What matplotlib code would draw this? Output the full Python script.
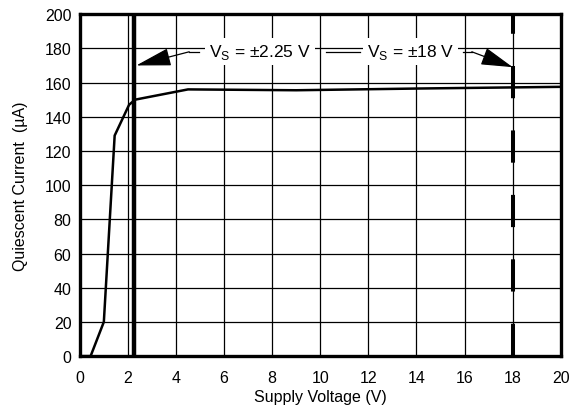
import numpy as np
import matplotlib.pyplot as plt

plt.rcParams['font.family'] = ['Liberation Sans', 'DejaVu Sans']

# quiescent current curve
supply_v = [0.0, 0.45, 1.0, 1.45, 2.05, 2.3, 4.5, 9.0, 14.0, 20.0]
current_ua = [0.0, 0.0, 20.0, 129.0, 147.0, 150.0, 156.0, 155.5, 156.5, 157.5]

xticks = np.arange(0, 21, 2)
yticks = np.arange(0, 201, 20)

vs_low = 2.25
vs_high = 18.0

fig = plt.figure(figsize=(5.74, 4.10), dpi=100)
ax = fig.add_axes([0.139, 0.129, 0.838, 0.834])

ax.set_xlim(0, 20)
ax.set_ylim(0, 200)
ax.set_xticks(xticks)
ax.set_yticks(yticks)
ax.tick_params(length=0, labelsize=11.5)
ax.tick_params(axis='x', pad=10)
ax.tick_params(axis='y', pad=6)
ax.grid(True, color='black', linewidth=0.9)
ax.set_axisbelow(True)
for s in ax.spines.values():
    s.set_linewidth(2.4)

ax.plot(supply_v, current_ua, color='black', linewidth=1.8, zorder=4)

# supply voltage markers
ax.axvline(vs_low, color='black', linewidth=3.2, zorder=3)
ax.plot([vs_high, vs_high], [0, 200], color='black', linewidth=2.9,
        dashes=(8, 8), zorder=3)

# labels with arrows
txt_kw = dict(fontsize=12.5, ha='center', va='center', zorder=6,
              bbox=dict(facecolor='white', edgecolor='none', pad=3))
ax.text(7.5, 178, r'V$_\mathregular{S}$ = ±2.25 V', **txt_kw)
ax.text(13.75, 178, r'V$_\mathregular{S}$ = ±18 V', **txt_kw)

ax.plot([4.95, 4.55], [178, 178], color='black', linewidth=0.9, zorder=5)
ax.annotate('', xy=(vs_low + 0.1, 170), xytext=(4.55, 178),
            arrowprops=dict(arrowstyle='-|>,head_length=1.1,head_width=0.28',
                            mutation_scale=20, color='black', lw=0.9,
                            shrinkA=0, shrinkB=0), zorder=5)

ax.plot([10.25, 11.65], [178, 178], color='black', linewidth=0.9, zorder=5)
ax.annotate('', xy=(vs_high, 169), xytext=(16.3, 178),
            arrowprops=dict(arrowstyle='-|>,head_length=1.0,head_width=0.28',
                            mutation_scale=20, color='black', lw=0.9,
                            shrinkA=0, shrinkB=0), zorder=5)
ax.plot([15.95, 16.3], [178, 178], color='black', linewidth=0.9, zorder=5)

ax.set_xlabel('Supply Voltage (V)', fontsize=11.5, labelpad=3)
ax.set_ylabel('Quiescent Current  (µA)', fontsize=11.5, labelpad=12)

fig.savefig('out.png', dpi=100)
